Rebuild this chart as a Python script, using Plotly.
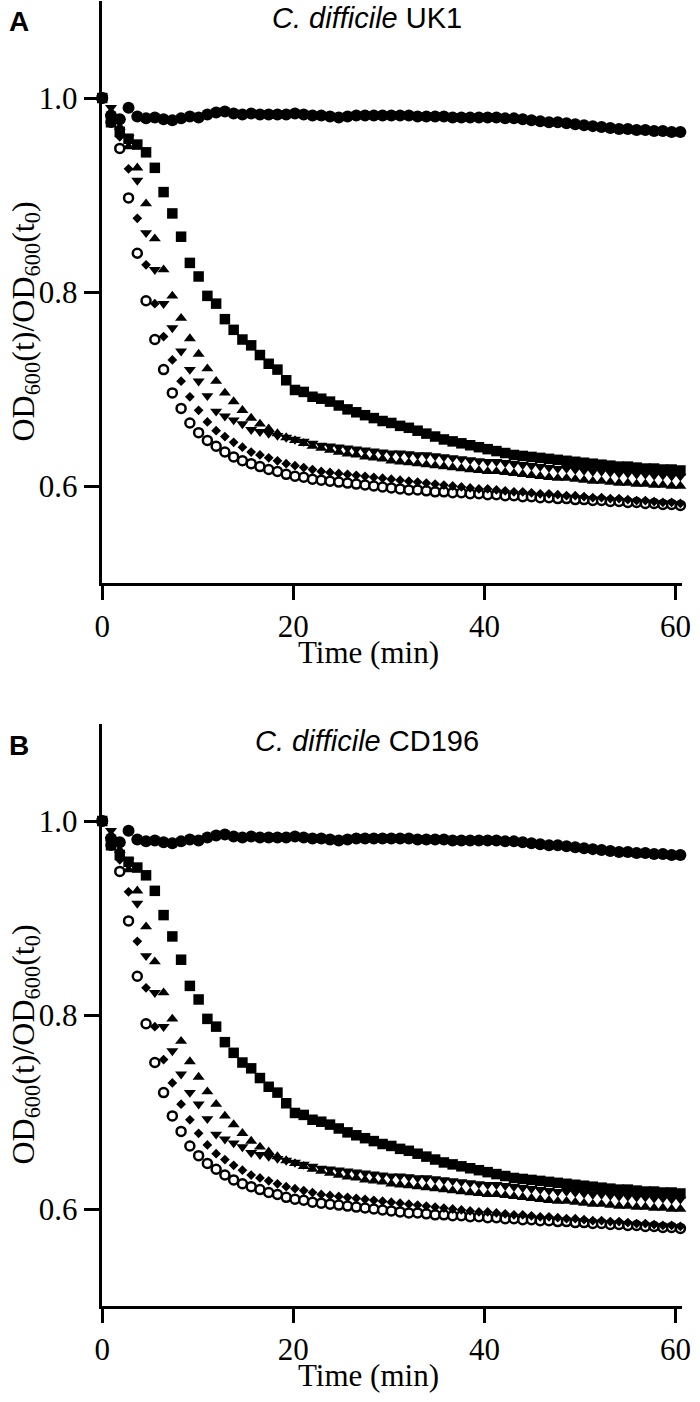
import plotly.graph_objects as go

# ---------------- data ----------------
time_min = [0.0, 0.917, 1.833, 2.75, 3.667, 4.583, 5.5, 6.417, 7.333, 8.25,
            9.167, 10.083, 11.0, 11.917, 12.833, 13.75, 14.667, 15.583, 16.5, 17.417,
            18.333, 19.25, 20.167, 21.083, 22.0, 22.917, 23.833, 24.75, 25.667, 26.583,
            27.5, 28.417, 29.333, 30.25, 31.167, 32.083, 33.0, 33.917, 34.833, 35.75,
            36.667, 37.583, 38.5, 39.417, 40.333, 41.25, 42.167, 43.083, 44.0, 44.917,
            45.833, 46.75, 47.667, 48.583, 49.5, 50.417, 51.333, 52.25, 53.167, 54.083,
            55.0, 55.917, 56.833, 57.75, 58.667, 59.583, 60.5]

uk1_control = [1.000, 0.982, 0.978, 0.990, 0.981, 0.979, 0.980, 0.978, 0.977, 0.979,
               0.981, 0.980, 0.983, 0.985, 0.986, 0.984, 0.983, 0.984, 0.983, 0.983,
               0.983, 0.983, 0.984, 0.983, 0.982, 0.982, 0.981, 0.980, 0.981, 0.982,
               0.982, 0.982, 0.982, 0.982, 0.982, 0.982, 0.981, 0.981, 0.981, 0.981,
               0.980, 0.980, 0.980, 0.980, 0.980, 0.980, 0.979, 0.979, 0.978, 0.977,
               0.976, 0.975, 0.975, 0.974, 0.973, 0.972, 0.971, 0.970, 0.969, 0.968,
               0.968, 0.967, 0.967, 0.966, 0.966, 0.965, 0.965]
uk1_square = [1.000, 0.975, 0.965, 0.958, 0.952, 0.944, 0.928, 0.903, 0.881, 0.857,
              0.830, 0.816, 0.796, 0.788, 0.772, 0.761, 0.751, 0.745, 0.735, 0.726,
              0.720, 0.709, 0.699, 0.697, 0.692, 0.690, 0.687, 0.683, 0.679, 0.676,
              0.673, 0.670, 0.667, 0.665, 0.662, 0.660, 0.657, 0.654, 0.651, 0.648,
              0.646, 0.644, 0.642, 0.640, 0.638, 0.636, 0.634, 0.632, 0.631, 0.630,
              0.629, 0.628, 0.627, 0.626, 0.625, 0.624, 0.623, 0.622, 0.621, 0.620,
              0.620, 0.619, 0.618, 0.618, 0.617, 0.617, 0.616]
uk1_tri_up = [1.000, 0.985, 0.970, 0.950, 0.928, 0.891, 0.855, 0.823, 0.796, 0.773,
              0.752, 0.736, 0.721, 0.708, 0.696, 0.687, 0.678, 0.670, 0.664, 0.659,
              0.654, 0.650, 0.647, 0.644, 0.641, 0.639, 0.637, 0.635, 0.633, 0.632,
              0.630, 0.629, 0.628, 0.626, 0.625, 0.624, 0.623, 0.622, 0.621, 0.620,
              0.619, 0.618, 0.617, 0.616, 0.615, 0.615, 0.614, 0.613, 0.612, 0.611,
              0.610, 0.609, 0.608, 0.608, 0.607, 0.606, 0.605, 0.605, 0.604, 0.603,
              0.603, 0.602, 0.602, 0.601, 0.601, 0.600, 0.600]
uk1_tri_down = [1.000, 0.990, 0.975, 0.959, 0.915, 0.861, 0.823, 0.788, 0.763, 0.739,
                0.720, 0.708, 0.693, 0.677, 0.672, 0.668, 0.664, 0.658, 0.656, 0.654,
                0.652, 0.650, 0.648, 0.646, 0.644, 0.642, 0.641, 0.640, 0.639, 0.638,
                0.637, 0.636, 0.635, 0.634, 0.634, 0.633, 0.632, 0.632, 0.631, 0.630,
                0.629, 0.628, 0.627, 0.626, 0.625, 0.625, 0.624, 0.623, 0.622, 0.621,
                0.620, 0.619, 0.618, 0.618, 0.617, 0.616, 0.615, 0.615, 0.614, 0.613,
                0.613, 0.612, 0.612, 0.611, 0.611, 0.610, 0.610]
uk1_diamond = [1.000, 0.980, 0.960, 0.927, 0.876, 0.828, 0.788, 0.754, 0.730, 0.708,
               0.692, 0.678, 0.666, 0.657, 0.651, 0.645, 0.640, 0.635, 0.632, 0.629,
               0.626, 0.623, 0.621, 0.619, 0.617, 0.615, 0.614, 0.613, 0.612, 0.611,
               0.610, 0.609, 0.608, 0.607, 0.606, 0.605, 0.604, 0.603, 0.602, 0.601,
               0.600, 0.599, 0.598, 0.597, 0.597, 0.596, 0.595, 0.594, 0.594, 0.593,
               0.592, 0.592, 0.591, 0.590, 0.590, 0.589, 0.588, 0.588, 0.587, 0.587,
               0.586, 0.585, 0.585, 0.584, 0.583, 0.583, 0.582]
uk1_open = [1.000, 0.975, 0.948, 0.897, 0.840, 0.791, 0.751, 0.720, 0.696, 0.680,
            0.665, 0.655, 0.647, 0.641, 0.635, 0.630, 0.626, 0.623, 0.620, 0.617,
            0.615, 0.612, 0.610, 0.609, 0.607, 0.606, 0.605, 0.604, 0.603, 0.602,
            0.601, 0.600, 0.599, 0.598, 0.597, 0.596, 0.596, 0.595, 0.594, 0.594,
            0.593, 0.593, 0.592, 0.592, 0.591, 0.591, 0.590, 0.590, 0.589, 0.589,
            0.588, 0.588, 0.587, 0.587, 0.586, 0.586, 0.585, 0.585, 0.584, 0.584,
            0.583, 0.583, 0.582, 0.582, 0.581, 0.581, 0.580]

# panel B looks the same as panel A at this resolution
cd196_control = list(uk1_control)
cd196_square = list(uk1_square)
cd196_tri_up = list(uk1_tri_up)
cd196_tri_down = list(uk1_tri_down)
cd196_diamond = list(uk1_diamond)
cd196_open = list(uk1_open)

x_ticks = [0, 20, 40, 60]
y_ticks = [0.6, 0.8, 1.0]
y_ticktext = ["0.6", "0.8", "1.0"]

# ---------------- figure ----------------
W, H = 700, 1402
SERIF = "Liberation Serif, Times New Roman, serif"
SANS = "Liberation Sans, Arial, sans-serif"

fig = go.Figure()

styles = [
    ("open", dict(symbol="circle", size=9, color="white", line=dict(color="black", width=2.5))),
    ("diamond", dict(symbol="diamond", size=7.5, color="black", line=dict(width=0))),
    ("tri_up", dict(symbol="triangle-up", size=10.5, color="black", line=dict(width=0))),
    ("tri_down", dict(symbol="triangle-down", size=10.5, color="black", line=dict(width=0))),
    ("square", dict(symbol="square", size=10.5, color="black", line=dict(width=0))),
    ("control", dict(symbol="circle", size=12, color="black", line=dict(width=0))),
]

panels = [
    dict(label="A", strain="UK1", top=1, bottom=583,
         data=dict(control=uk1_control, square=uk1_square, tri_up=uk1_tri_up,
                   tri_down=uk1_tri_down, diamond=uk1_diamond, open=uk1_open)),
    dict(label="B", strain="CD196", top=724, bottom=1306,
         data=dict(control=cd196_control, square=cd196_square, tri_up=cd196_tri_up,
                   tri_down=cd196_tri_down, diamond=cd196_diamond, open=cd196_open)),
]

x_left, x_right = 97, 691
annotations = []
for k, p in enumerate(panels):
    xa = "x" if k == 0 else "x2"
    ya = "y" if k == 0 else "y2"
    for key, mk in styles:
        fig.add_trace(go.Scatter(x=time_min, y=p["data"][key], mode="markers",
                                 marker=mk, xaxis=xa, yaxis=ya, cliponaxis=False,
                                 showlegend=False, hoverinfo="skip"))
    axname = "" if k == 0 else "2"
    fig.layout["xaxis" + axname] = dict(
        domain=[x_left / W, x_right / W], range=[-0.05, 60.69], anchor=ya,
        showline=True, linewidth=3, linecolor="black", ticks="outside", ticklen=14,
        tickwidth=3, tickcolor="black", tickvals=x_ticks, showgrid=False, zeroline=False,
        tickfont=dict(family=SERIF, size=31, color="black"))
    fig.layout["yaxis" + axname] = dict(
        domain=[1 - p["bottom"] / H, 1 - p["top"] / H], range=[0.5, 1.1], anchor=xa,
        showline=True, linewidth=3, linecolor="black", ticks="outside", ticklen=15,
        tickwidth=3, tickcolor="black", tickvals=y_ticks, ticktext=y_ticktext,
        showgrid=False, zeroline=False,
        tickfont=dict(family=SERIF, size=31, color="black"))
    off = p["top"] - 1
    annotations += [
        dict(text="<b>" + p["label"] + "</b>", x=12 / W, y=1 - (22 + off) / H,
             font=dict(family=SANS, size=28, color="black")),
        dict(text="<i>C. difficile</i> " + p["strain"], x=368 / W, y=1 - (18 + off) / H,
             font=dict(family=SANS, size=29, color="black")),
        dict(text="Time (min)", x=370 / W, y=1 - (652 + off) / H,
             font=dict(family=SERIF, size=31, color="black")),
        dict(text="OD<sub>600</sub>(t)/OD<sub>600</sub>(t<sub>0</sub>)", textangle=-90,
             x=18 / W, y=1 - (322 + off) / H,
             font=dict(family=SERIF, size=32, color="black")),
    ]

for a in annotations:
    a.update(xref="paper", yref="paper", xanchor="center", yanchor="middle", showarrow=False)

fig.update_layout(width=W, height=H, margin=dict(l=0, r=0, t=0, b=0),
                  paper_bgcolor="white", plot_bgcolor="white", annotations=annotations)

fig.write_html("out.html", config={"displayModeBar": False, "staticPlot": True},
               post_script="document.body.style.margin='0';document.body.style.padding='0';"
                           "document.documentElement.style.overflow='hidden';")
